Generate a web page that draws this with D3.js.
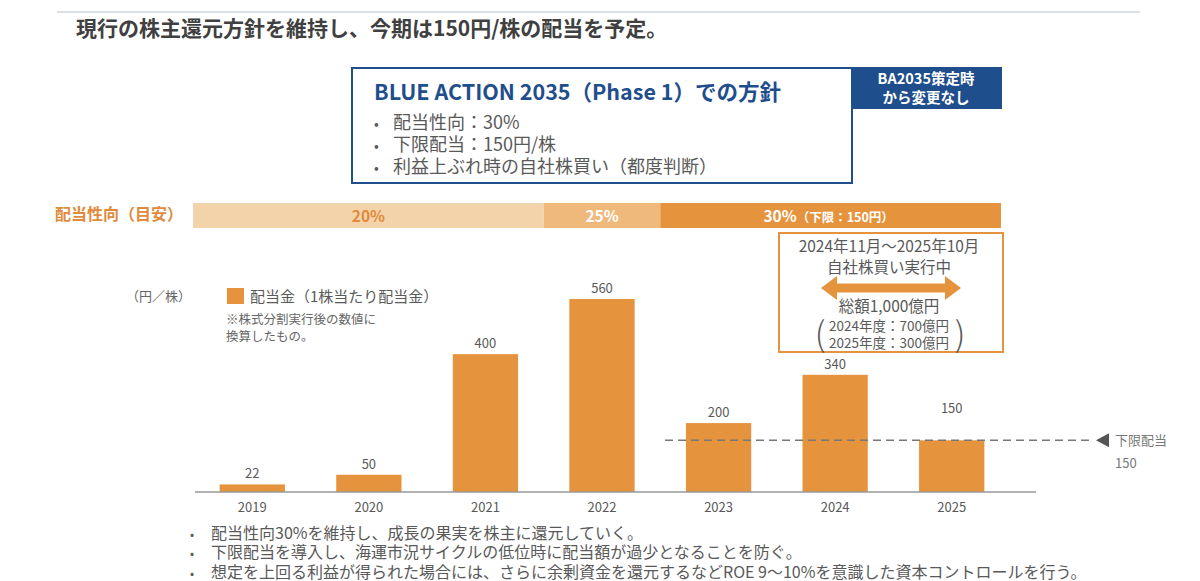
<!DOCTYPE html>
<html lang="ja">
<head>
<meta charset="UTF-8">
<title>配当方針</title>
<script src="https://cdn.jsdelivr.net/npm/d3@7"></script>
<style>
  body { margin: 0; background: #fff; }
  text { font-family: "Noto Sans CJK JP", "Noto Sans", sans-serif; }
</style>
</head>
<body>
<script>
// データ
var years = ["2019", "2020", "2021", "2022", "2023", "2024", "2025"];
var dividends = [22, 50, 400, 560, 200, 340, 150];
var floorDividend = 150;

// 配当性向（目安）の区間
var ratioLabels = ["20%", "25%", "30%"];
var ratioFrom = ["2019", "2022", "2023"];
var ratioNotes = ["", "", "（下限：150円）"];

var policyLines = ["配当性向：30%", "下限配当：150円/株", "利益上ぶれ時の自社株買い（都度判断）"];
var noteLines = [
  "配当性向30%を維持し、成長の果実を株主に還元していく。",
  "下限配当を導入し、海運市況サイクルの低位時に配当額が過少となることを防ぐ。",
  "想定を上回る利益が得られた場合には、さらに余剰資金を還元するなどROE 9～10%を意識した資本コントロールを行う。"
];
var buybackLines = ["2024年11月～2025年10月", "自社株買い実行中"];
var buybackTotal = ["総額1,000億円", "2024年度：700億円", "2025年度：300億円"];

var width = 1200, height = 581;
var navy = "#1f4e8c", orange = "#e6933d", grey = "#595959";
var ratioColors = ["#f3d4aa", "#efb97b", "#e6933d"];

var svg = d3.select("body").append("svg")
    .attr("width", width).attr("height", height);

// 見出し
svg.append("line").attr("x1", 57).attr("x2", 1140).attr("y1", 12).attr("y2", 12)
    .attr("stroke", "#b7c4cf").attr("stroke-width", 1);
svg.append("text").attr("x", 76).attr("y", 36)
    .attr("font-size", 21).attr("font-weight", "bold").attr("fill", "#404040")
    .text("現行の株主還元方針を維持し、今期は150円/株の配当を予定。");

// BLUE ACTION の枠
svg.append("rect").attr("x", 352).attr("y", 68).attr("width", 500).attr("height", 115)
    .attr("fill", "none").attr("stroke", navy).attr("stroke-width", 2);
svg.append("text").attr("x", 374).attr("y", 100)
    .attr("font-size", 21.5).attr("font-weight", "bold").attr("fill", navy)
    .text("BLUE ACTION 2035（Phase 1）での方針");
var pol = svg.append("g").selectAll("g").data(policyLines).enter().append("g")
    .attr("transform", function (d, i) { return "translate(374," + (128.5 + i * 22) + ")"; });
pol.append("text").attr("font-size", 14).attr("fill", grey).text("•");
pol.append("text").attr("x", 19).attr("font-size", 18).attr("fill", grey).text(function (d) { return d; });

svg.append("rect").attr("x", 851).attr("y", 67).attr("width", 151).attr("height", 42)
    .attr("fill", navy);
svg.append("text").attr("x", 926).attr("y", 84).attr("text-anchor", "middle")
    .attr("font-size", 14.5).attr("font-weight", "bold").attr("fill", "#fff").text("BA2035策定時");
svg.append("text").attr("x", 926).attr("y", 103).attr("text-anchor", "middle")
    .attr("font-size", 14.5).attr("font-weight", "bold").attr("fill", "#fff").text("から変更なし");

// スケール
var x = d3.scaleBand().domain(years).range([194, 1010]).paddingInner(0.44).paddingOuter(0.22);
var y = d3.scaleLinear().domain([0, 560]).range([492, 299]);

// 配当性向バー
svg.append("text").attr("x", 55).attr("y", 220)
    .attr("font-size", 16).attr("font-weight", "bold").attr("fill", "#e08a3c")
    .text("配当性向（目安）");
var step = x.step(), x0 = x.range()[0] - 1;
function segStart(i) { return i === 0 ? x0 : x(ratioFrom[i]) - (step - x.bandwidth()) / 2; }
function segEnd(i) { return i === ratioLabels.length - 1 ? x.range()[1] - 9 : segStart(i + 1); }
var seg = svg.append("g").selectAll("g").data(ratioLabels).enter().append("g");
seg.append("rect")
    .attr("x", function (d, i) { return segStart(i); })
    .attr("width", function (d, i) { return segEnd(i) - segStart(i); })
    .attr("y", 203).attr("height", 25)
    .attr("fill", function (d, i) { return ratioColors[i]; });
seg.append("text")
    .attr("x", function (d, i) { return (segStart(i) + segEnd(i)) / 2 - (ratioNotes[i] ? 2 : 0); })
    .attr("y", 221.5).attr("text-anchor", "middle")
    .attr("font-size", 15.5).attr("font-weight", "bold")
    .attr("fill", function (d, i) { return i === 0 ? "#e08a3c" : "#fff"; })
    .text(function (d) { return d; })
    .append("tspan").attr("font-size", 12.5)
    .text(function (d, i) { return ratioNotes[i]; });

// 自社株買いの枠
svg.append("rect").attr("x", 779).attr("y", 233).attr("width", 224).attr("height", 119)
    .attr("fill", "#fff").attr("stroke", orange).attr("stroke-width", 2);
svg.selectAll(".bb").data(buybackLines).enter().append("text")
    .attr("x", 889).attr("y", function (d, i) { return 251.5 + i * 21; })
    .attr("text-anchor", "middle").attr("font-size", 15.5).attr("fill", grey)
    .text(function (d) { return d; });
svg.append("path")
    .attr("d", "M821,288 L837,276 L837,283.5 L945,283.5 L945,276 L961,288 L945,300 L945,292.5 L837,292.5 L837,300 Z")
    .attr("fill", orange);
svg.selectAll(".bt").data(buybackTotal).enter().append("text")
    .attr("x", 889).attr("y", function (d, i) { return i === 0 ? 311.5 : 331 + (i - 1) * 17; })
    .attr("text-anchor", "middle").attr("font-size", function (d, i) { return i === 0 ? 15.5 : 13.5; })
    .attr("fill", grey).text(function (d) { return d; });
svg.append("text").attr("x", 820).attr("y", 346).attr("text-anchor", "middle")
    .attr("font-size", 34).attr("font-weight", 200).attr("fill", grey).text("(");
svg.append("text").attr("x", 960).attr("y", 346).attr("text-anchor", "middle")
    .attr("font-size", 34).attr("font-weight", 200).attr("fill", grey).text(")");

// 凡例
svg.append("text").attr("x", 126).attr("y", 301).attr("font-size", 13).attr("fill", "#666").text("（円／株）");
svg.append("rect").attr("x", 227).attr("y", 288).attr("width", 17).attr("height", 16).attr("fill", orange);
svg.append("text").attr("x", 250).attr("y", 301.5).attr("font-size", 15).attr("fill", grey).text("配当金（1株当たり配当金）");
svg.append("text").attr("x", 226).attr("y", 324).attr("font-size", 12.5).attr("fill", "#666").text("※株式分割実行後の数値に");
svg.append("text").attr("x", 226).attr("y", 341).attr("font-size", 12.5).attr("fill", "#666").text("換算したもの。");

// 棒グラフ
svg.append("g").selectAll("rect").data(dividends).enter().append("rect")
    .attr("x", function (d, i) { return x(years[i]); })
    .attr("width", x.bandwidth())
    .attr("y", function (d) { return y(d); })
    .attr("height", function (d) { return y(0) - y(d); })
    .attr("fill", orange);
svg.append("g").selectAll("text").data(dividends).enter().append("text")
    .attr("x", function (d, i) { return x(years[i]) + x.bandwidth() / 2; })
    .attr("y", function (d, i) { return y(d) - (i === years.length - 1 ? 27 : 6); })
    .attr("text-anchor", "middle").attr("font-size", 13).attr("fill", grey)
    .text(function (d) { return d; });

var axis = svg.append("g").attr("transform", "translate(0," + y(0) + ")")
    .call(d3.axisBottom(x).tickSize(0).tickPadding(11));
axis.select(".domain").remove();
axis.append("line").attr("x1", 195).attr("x2", 1036).attr("stroke", "#999").attr("stroke-width", 1.5);
axis.selectAll(".tick text").attr("font-size", 13).attr("fill", grey)
    .attr("font-family", "'Noto Sans CJK JP', sans-serif");

// 下限配当ライン
svg.append("line").attr("x1", 665).attr("x2", 1093)
    .attr("y1", y(floorDividend)).attr("y2", y(floorDividend))
    .attr("stroke", "#777").attr("stroke-width", 1.5).attr("stroke-dasharray", "8,5");
svg.append("path")
    .attr("d", "M1096," + y(floorDividend) + " l13,-7 l0,14 Z").attr("fill", "#555");
svg.append("text").attr("x", 1115).attr("y", y(floorDividend) + 5)
    .attr("font-size", 13).attr("fill", "#777").text("下限配当");
svg.append("text").attr("x", 1115).attr("y", y(floorDividend) + 28)
    .attr("font-size", 13).attr("fill", "#777").text(floorDividend);

// 注記
var notes = svg.append("g").selectAll("g").data(noteLines).enter().append("g")
    .attr("transform", function (d, i) { return "translate(190," + (538.5 + i * 19.5) + ")"; });
notes.append("text").attr("font-size", 12).attr("fill", grey).text("•");
notes.append("text").attr("x", 21).attr("font-size", 16).attr("fill", grey).text(function (d) { return d; });
</script>
</body>
</html>
